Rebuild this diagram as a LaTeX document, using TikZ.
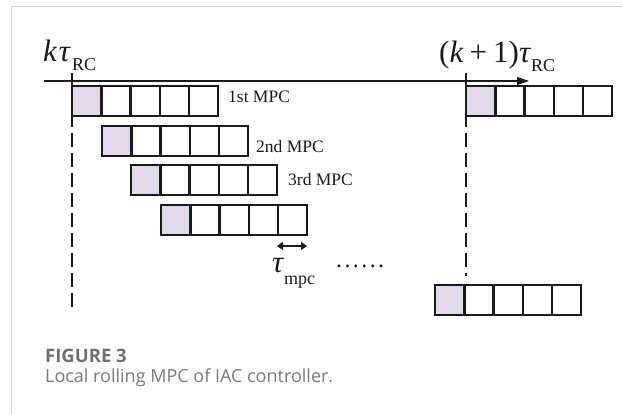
\documentclass[tikz,border=0pt]{standalone}
\usepackage{fontspec}
\setmainfont{Liberation Serif}
\newfontfamily\capfont{Open Sans}
\usetikzlibrary{arrows.meta}
\definecolor{lav}{HTML}{E1D9EA}
\definecolor{frame}{HTML}{D2D2D2}
\definecolor{capgray}{HTML}{6E6E6E}
\definecolor{capgray2}{HTML}{7A7A7A}
\definecolor{ink}{HTML}{1A1A1A}
\tikzset{
  cell/.style={draw=ink, line width=2.4pt, minimum width=29.2pt, minimum height=30pt, inner sep=0pt, anchor=north west},
  lbl/.style={inner sep=0pt, anchor=base west, text=ink},
  guide/.style={draw=ink, line width=2pt, dash pattern=on 14pt off 6pt},
  mpcrow/.pic={
    \node[cell, fill=lav] (-c0) at (0,0) {};
    \foreach \i in {1,...,4} \node[cell] (-c\i) at ({\i*29.2},0) {};
  }
}
\newcommand\bigsz{\fontsize{31}{31}\selectfont}
\newcommand\subsz{\fontsize{18}{18}\selectfont}
\newcommand\midsz{\fontsize{17.5}{17.5}\selectfont}
\begin{document}
\begin{tikzpicture}[x=1pt, y=-1pt]
\useasboundingbox (0,0) rectangle (622,414);
% frame
\draw[frame, line width=1pt] (11,414) -- (11,7) -- (622,7);
% guides
\coordinate (g1t) at (71.5,73); \coordinate (g1b) at (71.5,308);
\coordinate (g2t) at (465.5,73); \coordinate (g2b) at (465.5,276);
\draw[guide] (g1t) -- (g1b);
\draw[guide] (g2t) -- (g2b);
% axis
\coordinate (axs) at (44,81); \coordinate (axe) at (529,81);
\draw[ink, line width=1.2pt, -{Triangle[length=12pt,width=8pt]}] (axs) -- (axe);
% rows
\pic (r1) at (71,85) {mpcrow};
\pic (r2) at (101,125) {mpcrow};
\pic (r3) at (130,164) {mpcrow};
\pic (r4) at (160,204) {mpcrow};
\pic (rt) at (465,85) {mpcrow};
\pic (rb) at (434,284) {mpcrow};
% labels
\node[lbl] (kt) at (43,62) {\bigsz\itshape k\kern2pt τ\upshape\kern2pt\raisebox{-9pt}{\subsz RC}};
\node[lbl] (k1t) at (439,63) {\bigsz(\textit{k}\kern6pt+\kern6pt1)\textit{τ}\raisebox{-9pt}{\subsz RC}};
\node[lbl] (l1) at (228,103) {\midsz 1st MPC};
\node[lbl] (l2) at (256,153) {\midsz 2nd MPC};
\node[lbl] (l3) at (288,186) {\midsz 3rd MPC};
% tau mpc
\coordinate (ta) at (277,246); \coordinate (tb) at (307,246);
\draw[ink, line width=1.8pt, {Triangle[length=6pt,width=8pt]}-{Triangle[length=6pt,width=8pt]}] (ta) -- (tb);
\node[lbl] (tm) at (272,273) {\bigsz\textit{τ}\raisebox{-12pt}{\subsz mpc}};
\node[lbl] (dots) at (336,268) {\fontsize{24}{24}\selectfont .\kern2.4pt.\kern2.4pt.\kern2.4pt.\kern2.4pt.\kern2.4pt.};
% caption
\node[inner sep=0pt, anchor=base west, text=capgray] (fig) at (45,363) {\capfont\fontsize{18.5}{18.5}\selectfont\bfseries FIGURE 3};
\node[inner sep=0pt, anchor=base west, text=capgray2] (cap) at (45,383) {\capfont\fontsize{18}{18}\selectfont Local rolling MPC of IAC controller.};
\end{tikzpicture}
\end{document}
